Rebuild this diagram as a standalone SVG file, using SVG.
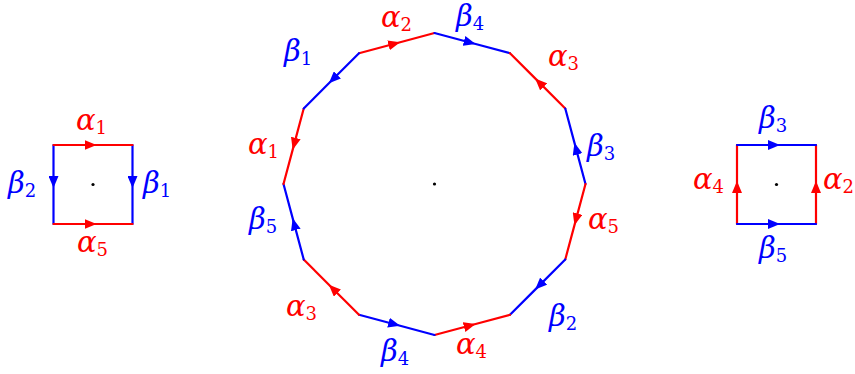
<svg xmlns="http://www.w3.org/2000/svg" width="855" height="374" viewBox="0 0 855 374">
<style>
.r{stroke:#ff0000;stroke-width:2.2;fill:none;stroke-linecap:round;marker-mid:url(#arR)}
.b{stroke:#0000ff;stroke-width:2.2;fill:none;stroke-linecap:round;marker-mid:url(#arB)}
text{font-family:"DejaVu Serif","Liberation Serif",serif;font-style:italic;font-size:29px}
.tr{fill:#ff0000}
.tb{fill:#0000ff}
.s{font-style:normal;font-size:18px}
</style>
<defs>
<marker id="arR" viewBox="0 0 12 10" refX="12" refY="5" markerWidth="12" markerHeight="10" markerUnits="userSpaceOnUse" orient="auto"><path d="M0,0 L12,5 L0,10 z" fill="#ff0000"/></marker>
<marker id="arB" viewBox="0 0 12 10" refX="12" refY="5" markerWidth="12" markerHeight="10" markerUnits="userSpaceOnUse" orient="auto"><path d="M0,0 L12,5 L0,10 z" fill="#0000ff"/></marker>
</defs>
<g id="connectors">
<!-- left square -->
<path class="b" d="M53.5,145 L53.5,188 L53.5,224"/>
<path class="b" d="M132.5,145 L132.5,188 L132.5,224"/>
<path class="r" d="M53.5,145 L96.5,145 L132.5,145"/>
<path class="r" d="M53.5,224 L96.5,224 L132.5,224"/>
<!-- polygon -->
<path class="r" d="M359,53.23 L400.13,42.21 L434.5,33"/>
<path class="b" d="M434.5,33 L475.63,44.02 L510,53.23"/>
<path class="r" d="M565.27,108.5 L535.16,78.39 L510,53.23"/>
<path class="b" d="M585.5,184 L574.48,142.87 L565.27,108.5"/>
<path class="r" d="M585.5,184 L574.48,225.13 L565.27,259.5"/>
<path class="b" d="M565.27,259.5 L535.16,289.61 L510,314.77"/>
<path class="r" d="M434.5,335 L475.63,323.98 L510,314.77"/>
<path class="b" d="M359,314.77 L400.13,325.79 L434.5,335"/>
<path class="r" d="M359,314.77 L328.89,284.66 L303.73,259.5"/>
<path class="b" d="M303.73,259.5 L292.71,218.37 L283.5,184"/>
<path class="r" d="M303.73,108.5 L292.71,149.63 L283.5,184"/>
<path class="b" d="M359,53.23 L328.89,83.34 L303.73,108.5"/>
<!-- right square -->
<path class="r" d="M737,224 L737,181 L737,145"/>
<path class="r" d="M816,224 L816,181 L816,145"/>
<path class="b" d="M737,145 L780,145 L816,145"/>
<path class="b" d="M737,224 L780,224 L816,224"/>
</g>
<g id="left-square">
<circle cx="93" cy="184.5" r="1.6" fill="#000"/>
<text class="tr" x="76" y="130">α<tspan class="s" dy="4">1</tspan></text>
<text class="tr" x="77" y="251.5">α<tspan class="s" dy="4">5</tspan></text>
<text class="tb" x="8" y="193">β<tspan class="s" dy="4">2</tspan></text>
<text class="tb" x="143" y="193">β<tspan class="s" dy="4">1</tspan></text>
</g>
<g id="polygon">
<circle cx="434.5" cy="184" r="1.6" fill="#000"/>
<text class="tr" x="381" y="27">α<tspan class="s" dy="4">2</tspan></text>
<text class="tb" x="456" y="26">β<tspan class="s" dy="4">4</tspan></text>
<text class="tb" x="284" y="61">β<tspan class="s" dy="4">1</tspan></text>
<text class="tr" x="548" y="65.5">α<tspan class="s" dy="4">3</tspan></text>
<text class="tb" x="587" y="156">β<tspan class="s" dy="4">3</tspan></text>
<text class="tr" x="588" y="228.5">α<tspan class="s" dy="4">5</tspan></text>
<text class="tr" x="248" y="153.5">α<tspan class="s" dy="4">1</tspan></text>
<text class="tb" x="249" y="229">β<tspan class="s" dy="4">5</tspan></text>
<text class="tr" x="286" y="315.5">α<tspan class="s" dy="4">3</tspan></text>
<text class="tb" x="381" y="361">β<tspan class="s" dy="4">4</tspan></text>
<text class="tr" x="456" y="353.5">α<tspan class="s" dy="4">4</tspan></text>
<text class="tb" x="549" y="326">β<tspan class="s" dy="4">2</tspan></text>
</g>
<g id="right-square">
<circle cx="776.5" cy="184.5" r="1.6" fill="#000"/>
<text class="tb" x="759" y="128">β<tspan class="s" dy="4">3</tspan></text>
<text class="tr" x="693" y="188.5">α<tspan class="s" dy="4">4</tspan></text>
<text class="tr" x="823" y="188.5">α<tspan class="s" dy="4">2</tspan></text>
<text class="tb" x="759" y="258">β<tspan class="s" dy="4">5</tspan></text>
</g>
</svg>
